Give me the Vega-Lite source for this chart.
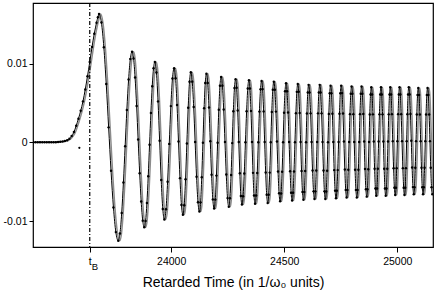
{
"$schema": "https://vega.github.io/schema/vega-lite/v6.json",
"width": 400, "height": 244,
"autosize": {"type": "none"},
"padding": {"left": 33, "top": 3, "right": 3, "bottom": 43},
"config": {"font": "Liberation Sans", "view": {"stroke": "#000", "strokeWidth": 1.2}, "axis": {"domain": false, "grid": false, "tickColor": "#000", "labelColor": "#000", "labelFont": "Liberation Sans", "labelFontSize": 10.5, "titleColor": "#000", "titleFont": "Liberation Sans", "titleFontWeight": "normal"}},
"datasets": {
"s": [{"t": 23594, "v": -0.0007}],
"w": [
{"t":23390,"v":0},{"t":23400,"v":0},{"t":23410,"v":0},{"t":23420,"v":0},{"t":23430,"v":0},{"t":23440,"v":0},{"t":23450,"v":0},{"t":23460,"v":0},{"t":23470,"v":0},{"t":23480,"v":0},{"t":23490,"v":0.00002},{"t":23500,"v":0.00004},{"t":23510,"v":0.00007},{"t":23520,"v":0.0001},{"t":23530,"v":0.00016},{"t":23540,"v":0.00026},{"t":23550,"v":0.00045},{"t":23560,"v":0.0008},{"t":23570,"v":0.0013},{"t":23580,"v":0.0021},{"t":23590,"v":0.003},{"t":23600,"v":0.004},{"t":23610,"v":0.0052},{"t":23620,"v":0.0067},{"t":23630,"v":0.0084},{"t":23640,"v":0.0102},{"t":23650,"v":0.0121},{"t":23660,"v":0.0138},{"t":23670,"v":0.0152},{"t":23676,"v":0.0159},{"t":23681,"v":0.0163},
{"t":23691.6,"v":0.01521},{"t":23702.3,"v":0.01208},{"t":23712.9,"v":0.00742},{"t":23723.5,"v":0.0019},{"t":23734.1,"v":-0.00362},{"t":23744.8,"v":-0.00828},{"t":23755.4,"v":-0.01141},{"t":23766,"v":-0.0125},
{"t":23773.6,"v":-0.01159},{"t":23781.3,"v":-0.00898},{"t":23788.9,"v":-0.0051},{"t":23796.5,"v":-0.0005},{"t":23804.1,"v":0.0041},{"t":23811.8,"v":0.00798},{"t":23819.4,"v":0.01059},{"t":23827,"v":0.0115},
{"t":23833.8,"v":0.01065},{"t":23840.5,"v":0.00823},{"t":23847.3,"v":0.00462},{"t":23854,"v":0.00035},{"t":23860.8,"v":-0.00392},{"t":23867.5,"v":-0.00753},{"t":23874.3,"v":-0.00995},{"t":23881,"v":-0.0108},
{"t":23886.9,"v":-0.01},{"t":23892.8,"v":-0.00772},{"t":23898.6,"v":-0.00432},{"t":23904.5,"v":-0.0003},{"t":23910.4,"v":0.00372},{"t":23916.3,"v":0.00712},{"t":23922.1,"v":0.0094},{"t":23928,"v":0.0102},
{"t":23935,"v":0.00886},{"t":23942,"v":0.0052},{"t":23949,"v":0.0002},{"t":23956,"v":-0.0048},{"t":23963,"v":-0.00846},{"t":23970,"v":-0.0098},
{"t":23977.2,"v":-0.00851},{"t":23984.3,"v":-0.005},{"t":23991.5,"v":-0.0002},{"t":23998.7,"v":0.0046},{"t":24005.8,"v":0.00811},{"t":24013,"v":0.0094},
{"t":24019.5,"v":0.00815},{"t":24026,"v":0.00475},{"t":24032.5,"v":0.0001},{"t":24039,"v":-0.00455},{"t":24045.5,"v":-0.00795},{"t":24052,"v":-0.0092},
{"t":24057.8,"v":-0.00799},{"t":24063.7,"v":-0.00468},{"t":24069.5,"v":-0.00015},{"t":24075.3,"v":0.00438},{"t":24081.2,"v":0.00769},{"t":24087,"v":0.0089},
{"t":24093.3,"v":0.00771},{"t":24099.7,"v":0.00448},{"t":24106,"v":0.00005},{"t":24112.3,"v":-0.00438},{"t":24118.7,"v":-0.00761},{"t":24125,"v":-0.0088},
{"t":24130.2,"v":-0.00763},{"t":24135.3,"v":-0.00443},{"t":24140.5,"v":-0.00005},{"t":24145.7,"v":0.00433},{"t":24150.8,"v":0.00753},{"t":24156,"v":0.0087},
{"t":24161.7,"v":0.00755},{"t":24167.3,"v":0.00443},{"t":24173,"v":0.00015},{"t":24178.7,"v":-0.00413},{"t":24184.3,"v":-0.00725},{"t":24190,"v":-0.0084},
{"t":24195.2,"v":-0.00728},{"t":24200.3,"v":-0.00423},{"t":24205.5,"v":-0.00005},{"t":24210.7,"v":0.00413},{"t":24215.8,"v":0.00718},{"t":24221,"v":0.0083},
{"t":24226.7,"v":0.00719},{"t":24232.3,"v":0.00418},{"t":24238,"v":0.00005},{"t":24243.7,"v":-0.00408},{"t":24249.3,"v":-0.00709},{"t":24255,"v":-0.0082},
{"t":24260,"v":-0.00711},{"t":24265,"v":-0.00415},{"t":24270,"v":-0.0001},{"t":24275,"v":0.00395},{"t":24280,"v":0.00691},{"t":24285,"v":0.008},
{"t":24289.7,"v":0.00693},{"t":24294.3,"v":0.00403},{"t":24299,"v":0.00005},{"t":24303.7,"v":-0.00393},{"t":24308.3,"v":-0.00683},{"t":24313,"v":-0.0079},
{"t":24318.2,"v":-0.00684},{"t":24323.3,"v":-0.00395},{"t":24328.5,"v":0},{"t":24333.7,"v":0.00395},{"t":24338.8,"v":0.00684},{"t":24344,"v":0.0079},
{"t":24348.5,"v":0.00685},{"t":24353,"v":0.00398},{"t":24357.5,"v":0.00005},{"t":24362,"v":-0.00388},{"t":24366.5,"v":-0.00675},{"t":24371,"v":-0.0078},
{"t":24375.8,"v":-0.00675},{"t":24380.7,"v":-0.0039},{"t":24385.5,"v":0},{"t":24390.3,"v":0.0039},{"t":24395.2,"v":0.00675},{"t":24400,"v":0.0078},
{"t":24404.5,"v":0.00676},{"t":24409,"v":0.00393},{"t":24413.5,"v":0.00005},{"t":24418,"v":-0.00383},{"t":24422.5,"v":-0.00666},{"t":24427,"v":-0.0077},
{"t":24431.5,"v":-0.00667},{"t":24436,"v":-0.00385},{"t":24440.5,"v":0},{"t":24445,"v":0.00385},{"t":24449.5,"v":0.00667},{"t":24454,"v":0.0077},
{"t":24458.7,"v":0.00668},{"t":24463.3,"v":0.0039},{"t":24468,"v":0.0001},{"t":24472.7,"v":-0.0037},{"t":24477.3,"v":-0.00648},{"t":24482,"v":-0.0075},
{"t":24486.3,"v":-0.0065},{"t":24490.7,"v":-0.00375},{"t":24495,"v":0},{"t":24499.3,"v":0.00375},{"t":24503.7,"v":0.0065},{"t":24508,"v":0.0075},
{"t":24512.5,"v":0.0065},{"t":24517,"v":0.00378},{"t":24521.5,"v":0.00005},{"t":24526,"v":-0.00368},{"t":24530.5,"v":-0.0064},{"t":24535,"v":-0.0074},
{"t":24539.2,"v":-0.00641},{"t":24543.3,"v":-0.0037},{"t":24547.5,"v":0},{"t":24551.7,"v":0.0037},{"t":24555.8,"v":0.00641},{"t":24560,"v":0.0074},
{"t":24564.2,"v":0.00642},{"t":24568.3,"v":0.00373},{"t":24572.5,"v":0.00005},{"t":24576.7,"v":-0.00363},{"t":24580.8,"v":-0.00632},{"t":24585,"v":-0.0073},
{"t":24588.8,"v":-0.00632},{"t":24592.7,"v":-0.00365},{"t":24596.5,"v":0},{"t":24600.3,"v":0.00365},{"t":24604.2,"v":0.00632},{"t":24608,"v":0.0073},
{"t":24612.3,"v":0.00633},{"t":24616.7,"v":0.00368},{"t":24621,"v":0.00005},{"t":24625.3,"v":-0.00358},{"t":24629.7,"v":-0.00623},{"t":24634,"v":-0.0072},
{"t":24637.8,"v":-0.00623},{"t":24641.7,"v":-0.00358},{"t":24645.5,"v":0.00005},{"t":24649.3,"v":0.00368},{"t":24653.2,"v":0.00633},{"t":24657,"v":0.0073},
{"t":24661.2,"v":0.00633},{"t":24665.3,"v":0.00368},{"t":24669.5,"v":0.00005},{"t":24673.7,"v":-0.00358},{"t":24677.8,"v":-0.00623},{"t":24682,"v":-0.0072},
{"t":24685.8,"v":-0.00624},{"t":24689.7,"v":-0.0036},{"t":24693.5,"v":0},{"t":24697.3,"v":0.0036},{"t":24701.2,"v":0.00624},{"t":24705,"v":0.0072},
{"t":24709,"v":0.00624},{"t":24713,"v":0.00363},{"t":24717,"v":0.00005},{"t":24721,"v":-0.00353},{"t":24725,"v":-0.00614},{"t":24729,"v":-0.0071},
{"t":24732.8,"v":-0.00614},{"t":24736.7,"v":-0.00353},{"t":24740.5,"v":0.00005},{"t":24744.3,"v":0.00363},{"t":24748.2,"v":0.00624},{"t":24752,"v":0.0072},
{"t":24756,"v":0.00625},{"t":24760,"v":0.00365},{"t":24764,"v":0.0001},{"t":24768,"v":-0.00345},{"t":24772,"v":-0.00605},{"t":24776,"v":-0.007},
{"t":24779.7,"v":-0.00606},{"t":24783.3,"v":-0.00348},{"t":24787,"v":0.00005},{"t":24790.7,"v":0.00358},{"t":24794.3,"v":0.00616},{"t":24798,"v":0.0071},
{"t":24801.8,"v":0.00616},{"t":24805.7,"v":0.00358},{"t":24809.5,"v":0.00005},{"t":24813.3,"v":-0.00348},{"t":24817.2,"v":-0.00606},{"t":24821,"v":-0.007},
{"t":24824.5,"v":-0.00606},{"t":24828,"v":-0.00348},{"t":24831.5,"v":0.00005},{"t":24835,"v":0.00358},{"t":24838.5,"v":0.00616},{"t":24842,"v":0.0071},
{"t":24845.8,"v":0.00616},{"t":24849.7,"v":0.0036},{"t":24853.5,"v":0.0001},{"t":24857.3,"v":-0.0034},{"t":24861.2,"v":-0.00596},{"t":24865,"v":-0.0069},
{"t":24868.3,"v":-0.00597},{"t":24871.7,"v":-0.00343},{"t":24875,"v":0.00005},{"t":24878.3,"v":0.00353},{"t":24881.7,"v":0.00607},{"t":24885,"v":0.007},
{"t":24888.7,"v":0.00608},{"t":24892.3,"v":0.00355},{"t":24896,"v":0.0001},{"t":24899.7,"v":-0.00335},{"t":24903.3,"v":-0.00588},{"t":24907,"v":-0.0068},
{"t":24910.5,"v":-0.00588},{"t":24914,"v":-0.00335},{"t":24917.5,"v":0.0001},{"t":24921,"v":0.00355},{"t":24924.5,"v":0.00608},{"t":24928,"v":0.007},
{"t":24931.5,"v":0.00608},{"t":24935,"v":0.00355},{"t":24938.5,"v":0.0001},{"t":24942,"v":-0.00335},{"t":24945.5,"v":-0.00588},{"t":24949,"v":-0.0068},
{"t":24952.3,"v":-0.00588},{"t":24955.7,"v":-0.00335},{"t":24959,"v":0.0001},{"t":24962.3,"v":0.00355},{"t":24965.7,"v":0.00608},{"t":24969,"v":0.007},
{"t":24972.7,"v":0.00608},{"t":24976.3,"v":0.00358},{"t":24980,"v":0.00015},{"t":24983.7,"v":-0.00328},{"t":24987.3,"v":-0.00578},{"t":24991,"v":-0.0067},
{"t":24994.2,"v":-0.00578},{"t":24997.3,"v":-0.00328},{"t":25000.5,"v":0.00015},{"t":25003.7,"v":0.00358},{"t":25006.8,"v":0.00608},{"t":25010,"v":0.007},
{"t":25013.7,"v":0.00608},{"t":25017.3,"v":0.00358},{"t":25021,"v":0.00015},{"t":25024.7,"v":-0.00328},{"t":25028.3,"v":-0.00578},{"t":25032,"v":-0.0067},
{"t":25035.2,"v":-0.00578},{"t":25038.3,"v":-0.00328},{"t":25041.5,"v":0.00015},{"t":25044.7,"v":0.00358},{"t":25047.8,"v":0.00608},{"t":25051,"v":0.007},
{"t":25054.7,"v":0.00609},{"t":25058.3,"v":0.0036},{"t":25062,"v":0.0002},{"t":25065.7,"v":-0.0032},{"t":25069.3,"v":-0.00569},{"t":25073,"v":-0.0066},
{"t":25076.3,"v":-0.0057},{"t":25079.7,"v":-0.00323},{"t":25083,"v":0.00015},{"t":25086.3,"v":0.00353},{"t":25089.7,"v":0.006},{"t":25093,"v":0.0069},
{"t":25096.5,"v":0.006},{"t":25100,"v":0.00353},{"t":25103.5,"v":0.00015},{"t":25107,"v":-0.00323},{"t":25110.5,"v":-0.0057},{"t":25114,"v":-0.0066},
{"t":25117.3,"v":-0.0057},{"t":25120.7,"v":-0.00323},{"t":25124,"v":0.00015},{"t":25127.3,"v":0.00353},{"t":25130.7,"v":0.006},{"t":25134,"v":0.0069},
{"t":25137.5,"v":0.006},{"t":25141,"v":0.00353},{"t":25144.5,"v":0.00015},{"t":25148,"v":-0.00323},{"t":25151.5,"v":-0.0057},{"t":25155,"v":-0.0066}
]},
"layer": [
{"data": {"name": "w"},
 "mark": {"type": "line", "color": "#8c8c8c", "strokeWidth": 1.5, "interpolate": "monotone", "xOffset": 1.5, "clip": true},
 "encoding": {
  "x": {"field": "t", "type": "quantitative", "scale": {"domain": [23389, 25158], "nice": false, "zero": false},
        "axis": {"values": [23640, 24000, 24500, 25000], "labelExpr": "datum.value == 23640 ? 't' : format(datum.value, 'd')", "tickSize": 5, "labelPadding": 4, "labelFlush": false, "labelOverlap": false, "title": "Retarded Time (in 1/ω₀ units)", "titleFontSize": 14, "titlePadding": 9}},
  "y": {"field": "v", "type": "quantitative", "scale": {"domain": [-0.0133, 0.0177], "nice": false, "zero": false},
        "axis": {"values": [-0.01, 0, 0.01], "labelExpr": "datum.value > 0.005 ? '0.01' : datum.value < -0.005 ? '-0.01' : '0'", "tickSize": 4, "labelPadding": 2, "title": null}}
 }},
{"data": {"name": "w"},
 "mark": {"type": "line", "color": "#000", "strokeWidth": 1, "interpolate": "monotone", "clip": true},
 "encoding": {"x": {"field": "t", "type": "quantitative"}, "y": {"field": "v", "type": "quantitative"}}},
{"data": {"name": "w"},
 "mark": {"type": "point", "filled": true, "color": "#000", "size": 6, "opacity": 1, "clip": true},
 "encoding": {"x": {"field": "t", "type": "quantitative"}, "y": {"field": "v", "type": "quantitative"}}},
{"data": {"name": "s"},
 "mark": {"type": "point", "filled": true, "color": "#000", "size": 5, "opacity": 1, "clip": true},
 "encoding": {"x": {"field": "t", "type": "quantitative"}, "y": {"field": "v", "type": "quantitative"}}},
{"data": {"values": [{}]},
 "mark": {"type": "rule", "strokeDash": [4, 2, 1, 2], "color": "#000", "strokeWidth": 1.2},
 "encoding": {"x": {"datum": 23640}}},
{"data": {"values": [{}]},
 "mark": {"type": "text", "text": "B", "fontSize": 9.5, "font": "Liberation Sans", "align": "left", "baseline": "alphabetic", "dx": 2, "dy": 23, "color": "#000"},
 "encoding": {"x": {"datum": 23640}, "y": {"datum": -0.0133}}}
]
}
